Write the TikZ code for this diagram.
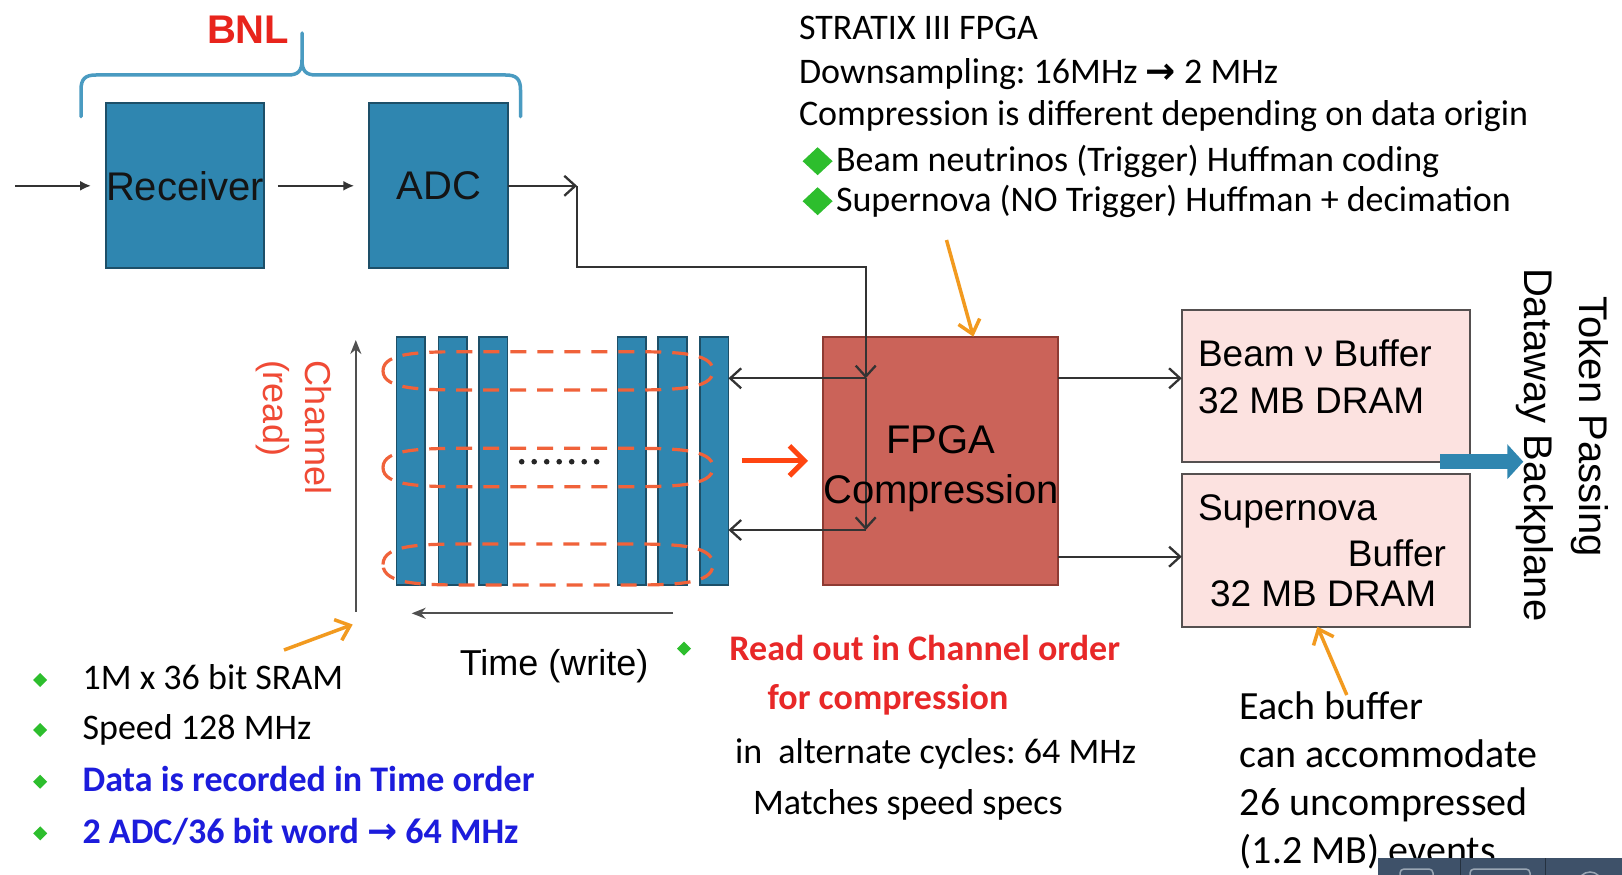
\documentclass[tikz,border=0pt]{standalone}
\usepackage{fontspec}
\setmainfont{Liberation Sans}
\newfontfamily\calib{Carlito}
\newfontfamily\djv{DejaVu Sans}
\usetikzlibrary{arrows.meta,shapes.geometric}
\frenchspacing

\definecolor{boxblue}{HTML}{2F86B0}
\definecolor{boxblueline}{HTML}{1D4F68}
\definecolor{fpgared}{HTML}{CB6359}
\definecolor{fpgaline}{HTML}{8E3B33}
\definecolor{bufpink}{HTML}{FCE2E0}
\definecolor{bufline}{HTML}{555050}
\definecolor{bracecol}{HTML}{4A9BC1}
\definecolor{bnlred}{HTML}{E8241C}
\definecolor{chanred}{HTML}{F04A35}
\definecolor{loopcol}{HTML}{F0623A}
\definecolor{arrorange}{HTML}{F29A1F}
\definecolor{bigred}{HTML}{FF4511}
\definecolor{bulletgreen}{HTML}{2DBE2D}
\definecolor{textblue}{HTML}{1C1CDC}
\definecolor{textred}{HTML}{E82828}
\definecolor{linegray}{HTML}{333333}
\definecolor{axisgray}{HTML}{505050}
\definecolor{barcol}{HTML}{3E5169}
\definecolor{barline}{HTML}{9AA6B4}

% heavy arrow used inside the notes
\newcommand{\rarr}{{\djv\bfseries →}}

\begin{document}
\begin{tikzpicture}[x=1pt,y=-1pt,
  every node/.style={inner sep=0pt, outer sep=0pt},
  conn/.style={draw=linegray, line width=2.3pt},
  barb/.style={-{Straight Barb[length=11pt, width=20pt]}},
  solidtip/.style={-{Latex[length=11pt, width=10pt]}},
  big/.style={font=\fontsize{40}{48}\selectfont},
  mid/.style={font=\fontsize{37}{44}\selectfont, anchor=base west},
  note/.style={font=\calib\fontsize{36}{43}\selectfont, anchor=base west},
  bignote/.style={font=\calib\fontsize{40}{48}\selectfont, anchor=base west},
  bluebox/.style={draw=boxblueline, line width=2pt, fill=boxblue, big, text=black!92},
  sram/.style={draw=boxblueline, line width=1.8pt, fill=boxblue, minimum width=28.5pt, minimum height=248.3pt},
  fpgabox/.style={draw=fpgaline, line width=2pt, fill=fpgared},
  buf/.style={draw=bufline, line width=2pt, fill=bufpink},
  brace/.style={draw=bracecol, line width=3.5pt, line cap=round, line join=round},
  looppath/.style={draw=loopcol, line width=3.2pt, dash pattern=on 16pt off 11pt},
  axisline/.style={draw=axisgray, line width=2pt, -{Stealth[length=14pt, width=11pt]}},
  chanlbl/.style={rotate=-90, anchor=base west, text=chanred, font=\fontsize{36}{43}\selectfont},
  bigarrow/.style={draw=bigred, line width=5pt, -{Straight Barb[length=15pt, width=30pt]}},
  orangearr/.style={draw=arrorange, line width=3.5pt, -{Straight Barb[length=13pt, width=22pt]}},
  bluearr/.style={draw=boxblue, line width=15pt, -{Triangle[length=16pt, width=34pt]}},
  gdiamond/.style={diamond, fill=bulletgreen, minimum width=30pt, minimum height=28pt},
  sdiamond/.style={diamond, fill=bulletgreen, minimum width=14pt, minimum height=14pt}
]
\useasboundingbox (0,0) rectangle (1622,875);
\fill[white] (0,0) rectangle (1622,875);

% ---------- front end: receiver and ADC ----------
\node[bluebox, minimum width=152pt, minimum height=165pt] (rx) at (185,185.8) {Receiver};
\node[bluebox, minimum width=139pt, minimum height=165pt] (adc) at (438.8,185.8) {ADC};

\draw[brace] (81,116.7) -- (81,90) .. controls (81,79) and (85,75) .. (96,75) -- (288,75)
  .. controls (298,75) and (302,71) .. (302,60) -- (302,33);
\draw[brace] (520.5,116.7) -- (520.5,90) .. controls (520.5,79) and (516.5,75) .. (505.5,75) -- (316,75)
  .. controls (306,75) and (302,71) .. (302,60);
\node[font=\bfseries\fontsize{40}{48}\selectfont, text=bnlred, anchor=base west] (bnl) at (207,43.3) {BNL};

\coordinate (in) at (15,185.8);
\draw[conn, solidtip] (in) -- ([xshift=-15pt]rx.west);
\draw[conn, solidtip] ([xshift=14pt]rx.east) -- ([xshift=-15pt]adc.west);

% ---------- SRAM bank ----------
\foreach \n/\x in {1/410.8, 2/452.8, 3/493.3, 4/631.8, 5/672.5, 6/714.2}
  \node[sram] (b\n) at (\x,460.8) {};
% read-out loops across the bank (flattened rings)
\foreach \ya/\yb in {351.7/390, 448.3/486.7, 544/585}{
  \pgfmathsetmacro{\ym}{(\ya+\yb)/2}
  \draw[looppath] (383,\ym) .. controls (383,\ya) and (423,\ya) .. (473,\ya) -- (623,\ya)
    .. controls (673,\ya) and (713,\ya) .. (713,\ym)
    .. controls (713,\yb) and (673,\yb) .. (623,\yb) -- (473,\yb)
    .. controls (423,\yb) and (383,\yb) .. (383,\ym) -- cycle;
}
\foreach \i in {0,...,6}
  \fill[black!85] (521.7+12.5*\i,461.7) circle[radius=2.8pt];

\coordinate (ax0) at (355.8,611.7);
\coordinate (axy) at (355.8,340);
\coordinate (axt0) at (673,613.3);
\coordinate (axt1) at (411.7,613.3);
\draw[axisline] (ax0) -- (axy);
\draw[axisline] (axt0) -- (axt1);

\node[chanlbl] (chan) at (305,360) {Channel};
\node[chanlbl] (read) at (263,360) {(read)};
\node[font=\fontsize{36}{43}\selectfont, anchor=base west] (time) at (459.8,675) {Time (write)};

% ---------- FPGA ----------
\node[fpgabox, minimum width=235pt, minimum height=248.3pt] (fpga) at (940.5,460.8) {};

\coordinate (c1) at (577,185.8);
\coordinate (c2) at (577,267.3);
\coordinate (c3) at (865.7,267.3);
\coordinate (j1) at (865.7,378.3);
\coordinate (j2) at (865.7,530);
\draw[conn, barb] (adc.east) -- (c1);
\draw[conn, barb] (c1) -- (c2) -- (c3) -- (j1);
\draw[conn, barb] (j1) -- (j2);
\draw[conn, barb] (j1) -- (b6.east |- j1);
\draw[conn, barb] (j2) -- (b6.east |- j2);

\node[big, anchor=base] (fpga1) at (941,453.3) {FPGA};
\node[big, anchor=base] (fpga2) at (941,503.3) {Compression};

\draw[bigarrow] ([xshift=13.4pt]b6.east) -- ([xshift=-15pt]fpga.west);

% ---------- buffers ----------
\node[buf, minimum width=288pt, minimum height=152pt] (beam) at (1325.8,385.8) {};
\node[buf, minimum width=288pt, minimum height=152.7pt] (super) at (1325.8,550.3) {};
\node[mid] (beam1) at (1198,366.7) {Beam ν Buffer};
\node[mid] (beam2) at (1198,413.3) {32 MB DRAM};
\node[mid] (sup1) at (1198,520) {Supernova};
\node[mid, anchor=base east] (sup2) at (1446,566.7) {Buffer};
\node[mid] (sup3) at (1210,606.7) {32 MB DRAM};

\coordinate (lvl2) at (0,556.7);
\draw[conn, barb] (fpga.east |- j1) -- (beam.west |- j1);
\draw[conn, barb] (fpga.east |- lvl2) -- (super.west |- lvl2);

\coordinate (bp0) at (1440,461.7);
\coordinate (bp1) at (1523.3,461.7);
\draw[bluearr] (bp0) -- (bp1);

\node[big, rotate=-90, anchor=base west] (tok) at (1579,296.7) {Token Passing};
\node[big, rotate=-90, anchor=base west] (dwb) at (1524,268) {Dataway Backplane};

% ---------- FPGA notes ----------
\node[note] (n1) at (799,40) {STRATIX III FPGA};
\node[note] (n2) at (799,83.3) {Downsampling: 16MHz \rarr\ 2 MHz};
\node[note] (n3) at (799,125) {Compression is different depending on data origin};
\node[gdiamond] (d1) at (817.6,161.2) {};
\node[note] (n4) at (836,171.7) {Beam neutrinos (Trigger) Huffman coding};
\node[gdiamond] (d2) at (817.6,201.2) {};
\node[note] (n5) at (836,211.7) {Supernova (NO Trigger) Huffman + decimation};

% ---------- SRAM notes ----------
\node[sdiamond] (s1) at (40.2,680) {};
\node[note] (l1) at (82.6,689) {1M x 36 bit SRAM};
\node[sdiamond] (s2) at (40.2,730) {};
\node[note] (l2) at (82.6,739) {Speed 128 MHz};
\node[sdiamond] (s3) at (40.2,781.7) {};
\node[note, text=textblue, font=\calib\bfseries\fontsize{36}{43}\selectfont] (l3) at (82.6,791) {Data is recorded in Time order};
\node[sdiamond] (s4) at (40.2,833.3) {};
\node[note, text=textblue, font=\calib\bfseries\fontsize{36}{43}\selectfont] (l4) at (82.6,843) {2 ADC/36 bit word \rarr\ 64 MHz};

% ---------- readout notes ----------
\node[sdiamond] (s5) at (684,648.6) {};
\node[note, text=textred, font=\calib\bfseries\fontsize{36}{43}\selectfont] (r1) at (729.4,660) {Read out in Channel order};
\node[note, text=textred, font=\calib\bfseries\fontsize{36}{43}\selectfont] (r2) at (767.6,709) {for compression};
\node[note] (r3) at (735,763) {in\ \ alternate cycles: 64 MHz};
\node[note] (r4) at (753,814) {Matches speed specs};

% ---------- buffer notes ----------
\node[bignote] (e1) at (1239.8,719) {Each buffer};
\node[bignote] (e2) at (1239.8,767) {can accommodate};
\node[bignote] (e3) at (1239.8,815) {26 uncompressed};
\node[bignote] (e4) at (1239.8,863) {(1.2 MB) events};

% ---------- pointers ----------
\coordinate (o1s) at (946.5,240);
\draw[orangearr] (o1s) -- ([xshift=32.8pt]fpga.north);
\coordinate (o2s) at (284,650);
\coordinate (o2e) at (352.7,624.5);
\draw[orangearr] (o2s) -- (o2e);
\coordinate (o3s) at (1346.8,695);
\draw[orangearr] (o3s) -- ([xshift=-8.4pt]super.south);

% ---------- toolbar strip along the lower edge ----------
\begin{scope}
  \fill[barcol] (1378,858.3) rectangle (1622,875);
  \clip (1378,858.3) rectangle (1622,875);
  \draw[barline, line width=1.5pt, rounded corners=4pt] (1400,869) rectangle (1433,890);
  \draw[barline, line width=1.5pt, rounded corners=4pt] (1470,869) rectangle (1530,890);
  \draw[barline, line width=1.5pt] (1590,884) circle[radius=12pt];
  \draw[barcol!60!black, line width=1pt] (1460,858.3) -- (1460,875);
  \draw[barcol!60!black, line width=1pt] (1545,858.3) -- (1545,875);
\end{scope}
\end{tikzpicture}
\end{document}
